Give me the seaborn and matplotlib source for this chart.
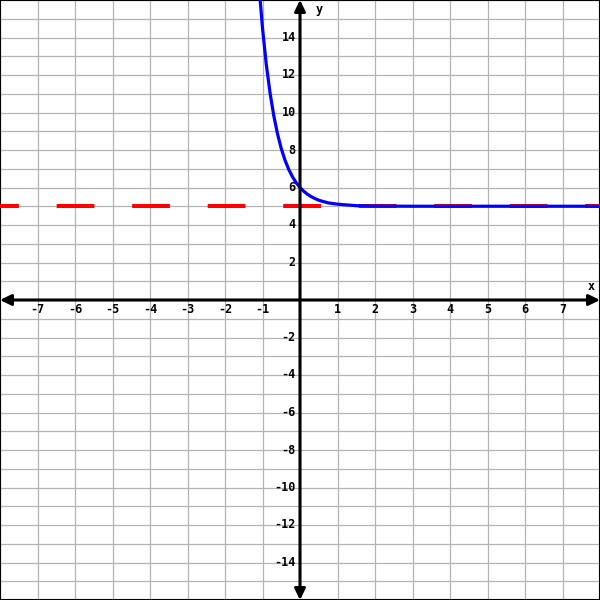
import numpy as np
import matplotlib.pyplot as plt
import pandas as pd
import seaborn as sns

# curve points (y falls towards the asymptote y = 5)
curve_x = [-1.1, -1.0, -0.9, -0.8, -0.7, -0.6, -0.5, -0.4, -0.3, -0.2, -0.1, 0.0,
           0.1, 0.2, 0.3, 0.4, 0.5, 0.75, 1.0, 1.5, 2.0, 3.0, 4.0, 5.0, 6.0, 7.0, 8.0]
curve_y = [16.90, 14.50, 12.58, 11.06, 9.84, 8.86, 8.08, 7.46, 6.96, 6.57, 6.25, 6.00,
           5.80, 5.64, 5.51, 5.41, 5.32, 5.18, 5.11, 5.03, 5.01, 5.00, 5.00, 5.00, 5.00, 5.00, 5.00]

# horizontal asymptote
asym_x = [-8, 8]
asym_y = [5, 5]

x_tick_labels = [-7, -6, -5, -4, -3, -2, -1, 1, 2, 3, 4, 5, 6, 7]
y_tick_labels = [-14, -12, -10, -8, -6, -4, -2, 2, 4, 6, 8, 10, 12, 14]
x_grid = list(range(-8, 9))
y_grid = list(range(-16, 17))

sns.set_style('white')
plt.rcParams['font.family'] = ['DejaVu Sans Mono', 'DejaVu Sans']

fig = plt.figure(figsize=(6, 6), dpi=100)
ax = fig.add_axes([0, 0, 1, 1])
ax.set_xlim(-8, 8)
ax.set_ylim(-16, 16)

ax.set_xticks(x_grid)
ax.set_yticks(y_grid)
ax.tick_params(length=0, labelbottom=False, labelleft=False)
ax.grid(True, color='#b4b4b4', lw=0.9)
ax.set_axisbelow(True)
for s in ax.spines.values():
    s.set_color('black')
    s.set_linewidth(1.5)

# dash = one x unit, gap = one x unit, dashes centred on even x values
asym_df = pd.DataFrame({'x': asym_x, 'y': asym_y})
sns.lineplot(data=asym_df, x='x', y='y', ax=ax, color='#ff0000', lw=2.9, zorder=3)
ax.lines[-1].set_linestyle((4.6875, (9.375, 9.375)))
ax.lines[-1].set_dash_capstyle('butt')

curve_df = pd.DataFrame({'x': curve_x, 'y': curve_y})
sns.lineplot(data=curve_df, x='x', y='y', ax=ax, color='#0000ff', lw=2.3,
             sort=False, zorder=4)
ax.set_xlabel('')
ax.set_ylabel('')

# axes with arrowheads
arrow = dict(arrowstyle='<|-|>,head_length=0.65,head_width=0.32', color='black',
             lw=2.2, shrinkA=0, shrinkB=0, mutation_scale=10)
ax.annotate('', xy=(8, 0), xytext=(-8, 0), arrowprops=arrow, zorder=5)
ax.annotate('', xy=(0, 16), xytext=(0, -16), arrowprops=arrow, zorder=5)

font = dict(fontsize=8.5, fontweight='bold', color='black')
for v in x_tick_labels:
    ax.annotate(f'{v}', (v, 0), xytext=(0, -2.5), textcoords='offset points',
                ha='center', va='top', **font)
for v in y_tick_labels:
    ax.annotate(f'{v}', (0, v), xytext=(-3, 0), textcoords='offset points',
                ha='right', va='center', **font)
ax.annotate('y', (0, 16), xytext=(11, -6.5), textcoords='offset points',
            ha='left', va='center', **font)
ax.annotate('x', (8, 0), xytext=(-6.5, 10), textcoords='offset points',
            ha='center', va='center', **font)

fig.savefig('out.png', dpi=100)
